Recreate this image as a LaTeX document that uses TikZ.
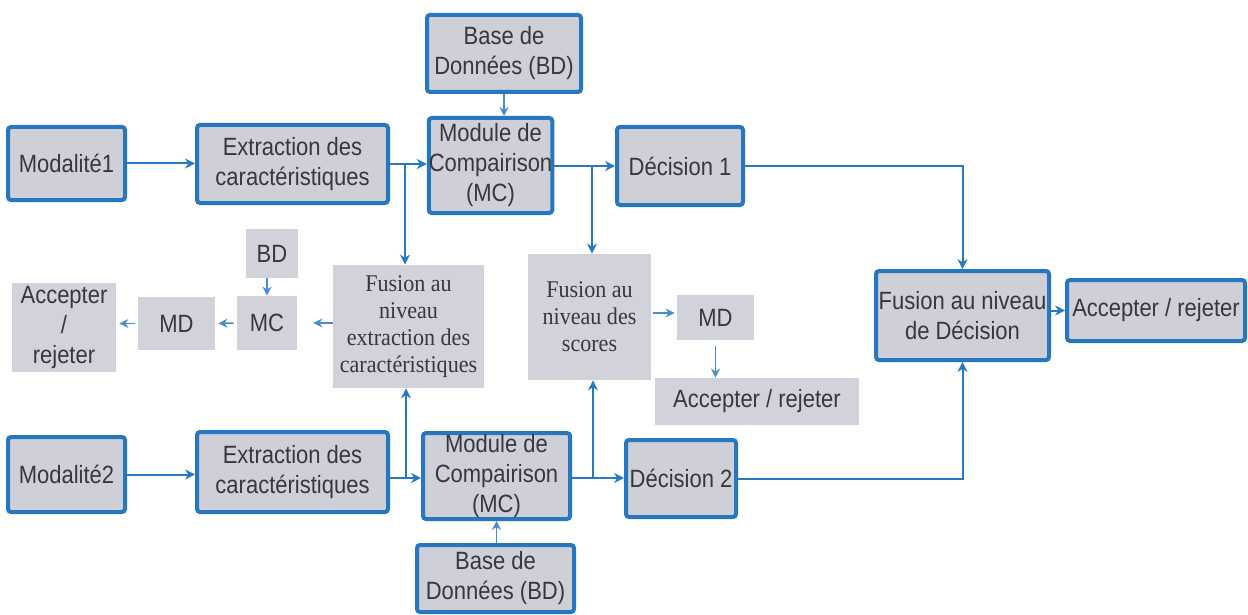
\documentclass[tikz,border=0pt]{standalone}
\usepackage{fontspec}
\setmainfont{Liberation Sans}[FakeStretch=0.88]
\newfontfamily\serifx{Liberation Serif}[FakeStretch=0.92]
\usetikzlibrary{arrows.meta}
\definecolor{bblue}{RGB}{38,118,192}
\definecolor{ablue}{RGB}{40,120,194}
\definecolor{boxgray}{RGB}{206,207,215}
\definecolor{boxgray2}{RGB}{210,211,218}
\definecolor{txt}{RGB}{55,55,60}
\tikzset{
  bbox/.style={draw=bblue, line width=2pt, fill=boxgray, rounded corners=1.5pt,
    text=txt, align=center, inner sep=0pt,
    font=\fontsize{12.5}{15}\selectfont},
  gbox/.style={fill=boxgray2, text=txt, align=center, inner sep=0pt,
    font=\fontsize{12.5}{15}\selectfont},
  sbox/.style={gbox, font=\serifx\fontsize{12}{13.5}\selectfont},
  arr/.style={-{Stealth[length=5pt,width=5pt]}, line width=1pt, draw=ablue},
  thinarr/.style={-{Stealth[length=4.5pt,width=4.5pt]}, line width=0.8pt, draw=ablue!85!white}
}
\begin{document}
\begin{tikzpicture}[x=0.5pt,y=-0.5pt]
\useasboundingbox[fill=white] (0,0) rectangle (1248,615);

% upper branch
\node[bbox, minimum width=58.5pt, minimum height=36.5pt] (mod1) at (66.5,163.5) {Modalité1};
\node[bbox, minimum width=95.5pt, minimum height=39pt] (ext1) at (292.5,164) {Extraction des\\caractéristiques};
\node[bbox, minimum width=77pt, minimum height=38.5pt] (bd1) at (504,53.5) {Base de\\Données (BD)};
\node[bbox, minimum width=57.5pt, minimum height=47.5pt] (mc1) at (490.5,165.5) {Module de\\Compairison\\(MC)};
\node[bbox, minimum width=63pt, minimum height=39pt] (dec1) at (680,166) {Décision 1};

% lower branch
\node[bbox, minimum width=58.5pt, minimum height=37.5pt] (mod2) at (66.5,474.5) {Modalité2};
\node[bbox, minimum width=95.5pt, minimum height=40pt] (ext2) at (292.5,472) {Extraction des\\caractéristiques};
\node[bbox, minimum width=73.5pt, minimum height=43pt] (mc2) at (496.5,476) {Module de\\Compairison\\(MC)};
\node[bbox, minimum width=55pt, minimum height=38.5pt] (dec2) at (681,478.5) {Décision 2};
\node[bbox, minimum width=78.5pt, minimum height=33.5pt] (bd2) at (495.5,578.5) {Base de\\Données (BD)};

% decision-level fusion
\node[bbox, minimum width=86.5pt, minimum height=44.5pt] (fd) at (962.5,315.5) {Fusion au niveau\\de Décision};
\node[bbox, minimum width=89pt, minimum height=30.5pt] (ar) at (1156,310.5) {Accepter / rejeter};

% feature-level fusion chain
\node[sbox, minimum width=75.5pt, minimum height=61.5pt] (fe) at (408.5,326.5) {Fusion au\\niveau\\extraction des\\caractéristiques};
\node[gbox, minimum width=26pt, minimum height=24.5pt] (bds) at (272,253.5) {BD};
\node[gbox, minimum width=30pt, minimum height=27pt] (mcs) at (267,323) {MC};
\node[gbox, minimum width=38.5pt, minimum height=26.5pt] (mds) at (176.5,323.5) {MD};
\node[gbox, minimum width=52pt, minimum height=44.5pt] (arl) at (64,327.5) {Accepter\\/\\rejeter};

% score-level fusion chain
\node[sbox, minimum width=61.5pt, minimum height=63pt] (fs) at (589.5,317) {Fusion au\\niveau des\\scores};
\node[gbox, minimum width=38.5pt, minimum height=22.5pt] (md2) at (715.5,317.5) {MD};
\node[gbox, minimum width=102pt, minimum height=23.5pt] (ar2) at (757,401.5) {Accepter / rejeter};

% branch points
\coordinate (j1) at (405,164);
\coordinate (j2) at (592,166);
\coordinate (j3) at (406,478);
\coordinate (j4) at (593,478);

% upper branch connectors
\draw[arr] (mod1.east) -- (mod1.east -| ext1.west);
\draw[arr] (ext1.east |- j1) -- (j1 -| mc1.west);
\draw[arr] (j1) -- (j1 |- fe.north);
\draw[thinarr] (bd1.south) -- (bd1.south |- mc1.north);
\draw[arr] (mc1.east |- j2) -- (j2 -| dec1.west);
\draw[arr] (j2) -- (j2 |- fs.north);
\draw[arr] (dec1.east) -| (fd.north);

% lower branch connectors
\draw[arr] (mod2.east) -- (mod2.east -| ext2.west);
\draw[arr] (ext2.east |- j3) -- (j3 -| mc2.west);
\draw[arr] (j3) -- (j3 |- fe.south);
\draw[thinarr] (bd2.north -| mc2.south) -- (mc2.south);
\draw[arr] (mc2.east |- j4) -- (j4 -| dec2.west);
\draw[arr] (j4) -- (j4 |- fs.south);
\draw[arr] (dec2.east) -| (fd.south);

\draw[arr] (fd.east |- ar.west) -- (ar.west);

% feature-level chain connectors
\draw[thinarr, shorten >=8pt] (fe.west |- mcs.east) -- (mcs.east);
\draw[thinarr, shorten <=1.5pt, shorten >=1.5pt] (mcs.west) -- (mds.east);
\draw[thinarr, shorten <=1.5pt, shorten >=1.5pt] (mds.west) -- (mds.west -| arl.east);
\draw[thinarr] (bds.south -| mcs.north) -- (mcs.north);

% score-level chain connectors
\draw[thinarr, shorten <=1pt, shorten >=1pt] (fs.east |- 0,313) -- (md2.west |- 0,313);
\draw[thinarr, shorten <=3pt] (md2.south) -- (md2.south |- ar2.north);
\end{tikzpicture}
\end{document}
